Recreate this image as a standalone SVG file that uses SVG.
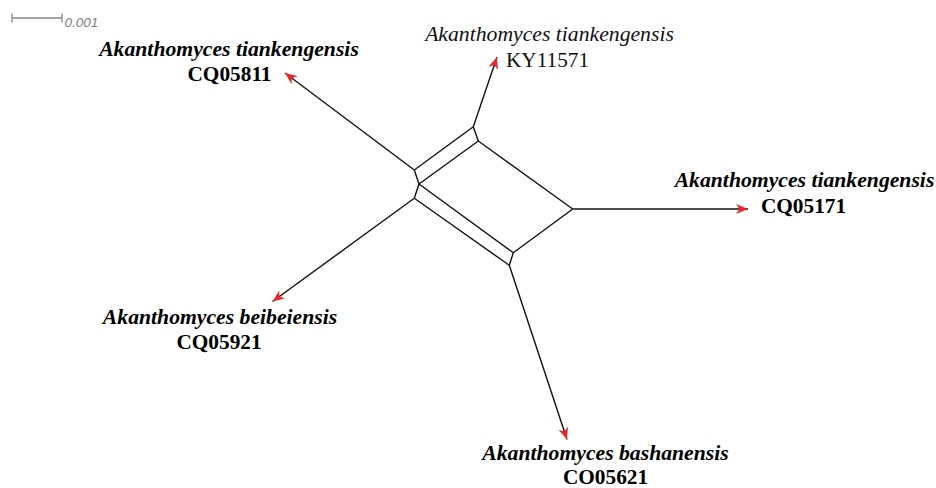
<svg xmlns="http://www.w3.org/2000/svg" width="936" height="488" viewBox="0 0 936 488">
<style>
.e{stroke:#111;stroke-width:1.4;fill:none;stroke-linejoin:round}
.p{stroke:#111;stroke-width:1.4;fill:none;marker-end:url(#arr)}
.bi{font-family:"Liberation Serif","Times New Roman",serif;font-size:21.7px;font-weight:bold;font-style:italic;fill:#000;text-anchor:middle}
.b{font-family:"Liberation Serif","Times New Roman",serif;font-size:21.3px;font-weight:bold;fill:#000;text-anchor:middle}
.ri{font-family:"Liberation Serif","Times New Roman",serif;font-size:21.7px;font-style:italic;fill:#111;text-anchor:middle}
.r{font-family:"Liberation Serif","Times New Roman",serif;font-size:21.3px;fill:#111;text-anchor:middle}
</style>
<defs>
<marker id="arr" markerUnits="userSpaceOnUse" markerWidth="13" markerHeight="11" refX="12" refY="5" orient="auto" viewBox="0 0 13 10">
<path d="M0,0 L12,5 L0,10 L3.5,5 z" fill="#e8262a"/>
</marker>
</defs>
<rect width="936" height="488" fill="#fff"/>
<g id="scalebar">
<path d="M12,18 H62 M12,13.5 V22.5 M62,13.5 V22.5" stroke="#888" stroke-width="1.3" fill="none"/>
<text x="64.5" y="26.5" font-family="Liberation Sans,Arial,sans-serif" font-size="13.5" font-style="italic" fill="#808080">0.001</text>
</g>
<g id="connectors">
<path class="e" d="M473.3,126.7 L478.3,141 M473.3,126.7 L414.3,170 M414.3,170 L419,184 M478.3,141 L419,184 M419,184 L414.3,198.3 M419,184 L513.3,252.7 M414.3,198.3 L509.3,265.3 M513.3,252.7 L509.3,265.3 M513.3,252.7 L572.7,209 M478.3,141 L572.7,209"/>
<line class="p" x1="473.3" y1="126.7" x2="497" y2="57"/>
<line class="p" x1="414.3" y1="170" x2="285" y2="73"/>
<line class="p" x1="414.3" y1="198.3" x2="272.5" y2="301.5"/>
<line class="p" x1="572.7" y1="209" x2="748" y2="209"/>
<line class="p" x1="509.3" y1="265.3" x2="567" y2="439.5"/>
</g>
<g id="node-CQ05811">
<text class="bi" x="229" y="56">Akanthomyces tiankengensis</text>
<text class="b" x="229.5" y="81">CQ05811</text>
</g>
<g id="node-KY11571">
<text class="ri" x="549.5" y="41">Akanthomyces tiankengensis</text>
<text class="r" x="547.5" y="67">KY11571</text>
</g>
<g id="node-CQ05171">
<text class="bi" x="804.5" y="187">Akanthomyces tiankengensis</text>
<text class="b" x="803.5" y="213">CQ05171</text>
</g>
<g id="node-CQ05921">
<text class="bi" x="220" y="324">Akanthomyces beibeiensis</text>
<text class="b" x="219" y="349">CQ05921</text>
</g>
<g id="node-CO05621">
<text class="bi" x="605.5" y="460">Akanthomyces bashanensis</text>
<text class="b" x="605.5" y="484">CO05621</text>
</g>
</svg>
